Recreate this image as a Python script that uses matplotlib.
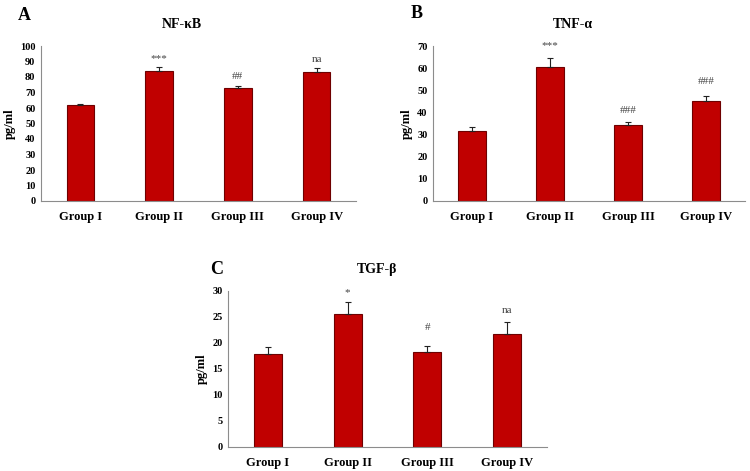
import matplotlib
matplotlib.use("Agg")
import matplotlib.pyplot as plt

groups = ["Group I", "Group II", "Group III", "Group IV"]

nfkb_vals = [62.0, 84.0, 73.0, 83.0]
nfkb_err = [0.8, 2.4, 1.5, 2.5]
nfkb_sig = ["", "***", "##", "na"]
nfkb_sig_y = [0, 89, 77.2, 88.5]

tnf_vals = [31.5, 60.5, 34.3, 45.3]
tnf_err = [1.7, 4.0, 1.3, 2.0]
tnf_sig = ["", "***", "###", "###"]
tnf_sig_y = [0, 68.2, 38.8, 51.8]

tgf_vals = [17.9, 25.6, 18.3, 21.7]
tgf_err = [1.3, 2.2, 1.1, 2.4]
tgf_sig = ["", "*", "#", "na"]
tgf_sig_y = [0, 28.8, 22.1, 25.4]

plt.rcParams['font.family'] = ['Liberation Serif', 'DejaVu Serif']

fig = plt.figure(figsize=(7.5, 4.71), dpi=100)

BAR = "#C00000"
EDGE = "#6E0000"
AX = "#8C8C8C"

def panel(rect, vals, err, sig, sig_y, ymax, ystep, title, letter, letter_xy, title_xy):
    ax = fig.add_axes(rect)
    x = range(len(groups))
    ax.bar(x, vals, width=0.35, color=BAR, edgecolor=EDGE, linewidth=0.8, zorder=2)
    ax.errorbar(x, vals, yerr=[[0]*len(err), err], fmt='none', ecolor='#222222',
                elinewidth=0.8, capsize=2.5, capthick=0.8, zorder=3)
    for xi, s, yy in zip(x, sig, sig_y):
        if s:
            ax.text(xi, yy, s, ha='center', va='bottom', fontsize=8, color='#444444')
    ax.set_xlim(-0.5, 3.5)
    ax.set_ylim(0, ymax)
    ax.set_yticks(list(range(0, ymax + 1, ystep)))
    ax.set_xticks(list(x))
    ax.set_xticklabels(groups, fontsize=9, fontweight='bold')
    for lab in ax.get_yticklabels():
        lab.set_fontsize(7.5)
        lab.set_fontweight('bold')
    ax.tick_params(axis='both', length=0, pad=4)
    ax.tick_params(axis='x', pad=7)
    for sp in ['top', 'right']:
        ax.spines[sp].set_visible(False)
    ax.spines['left'].set_color(AX)
    ax.spines['bottom'].set_color(AX)
    ax.set_ylabel("pg/ml", fontsize=9, fontweight='bold', labelpad=3)
    fig.text(title_xy[0] / 750, 1 - title_xy[1] / 471, title, ha='center', va='center',
             fontsize=10, fontweight='bold')
    fig.text(letter_xy[0] / 750, 1 - letter_xy[1] / 471, letter, ha='center', va='center',
             fontsize=13, fontweight='bold')
    return ax

def rect(l, r, t, b):
    return [l / 750, 1 - b / 471, (r - l) / 750, (b - t) / 471]

panel(rect(41, 356, 46, 201), nfkb_vals, nfkb_err, nfkb_sig, nfkb_sig_y, 100, 10,
      "NF-κB", "A", (24, 15), (182, 25))
panel(rect(433, 745, 46, 201), tnf_vals, tnf_err, tnf_sig, tnf_sig_y, 70, 10,
      "TNF-α", "B", (417, 13), (573, 25))
panel(rect(228, 547, 291, 447), tgf_vals, tgf_err, tgf_sig, tgf_sig_y, 30, 5,
      "TGF-β", "C", (217, 269), (377, 270))

fig.savefig("out.png", dpi=100, facecolor='white')
